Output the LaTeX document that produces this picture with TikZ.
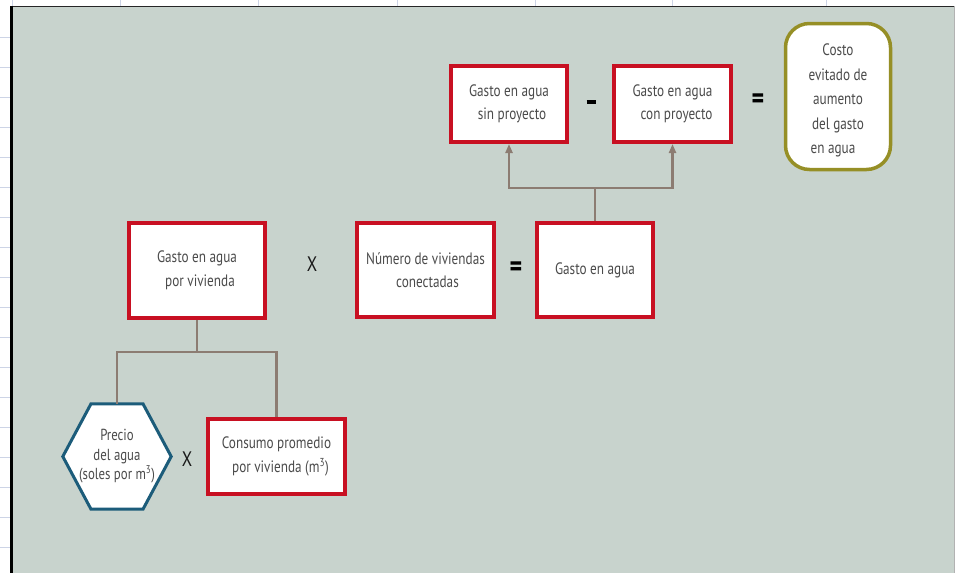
\documentclass[tikz,border=0pt]{standalone}
\usepackage{fontspec}
\setmainfont{PT Sans}
\newfontfamily\boxfont[FakeStretch=0.8]{PT Sans}
\usetikzlibrary{arrows.meta}

\definecolor{panel}{RGB}{200,211,205}
\definecolor{boxred}{RGB}{200,16,34}
\definecolor{hexblue}{RGB}{28,92,122}
\definecolor{olive}{RGB}{150,143,38}
\definecolor{connc}{RGB}{140,124,114}
\definecolor{txt}{RGB}{75,75,75}
\definecolor{gridc}{RGB}{205,212,230}

\tikzset{
  redbox/.style={draw=boxred, line width=4pt, fill=white, text=txt,
    align=center, inner sep=2pt,
    font=\boxfont\fontsize{16.5}{23.5}\selectfont},
  conn/.style={draw=connc, line width=2.2pt},
  uparrow/.style={conn, -{Triangle[width=7pt,length=9pt]}},
  opsign/.style={font=\boxfont\bfseries\fontsize{30}{30}\selectfont, text=black, inner sep=0pt},
  timessign/.style={font=\boxfont\fontsize{21}{21}\selectfont, text=black!90, inner sep=0pt},
}

\begin{document}
\begin{tikzpicture}[x=1pt,y=-1pt]
\useasboundingbox (0,0) rectangle (955,573);
\fill[white] (0,0) rectangle (955,573);

% worksheet grid around the panel
\foreach \gx in {120,258,397,535,672,826}
  \draw[gridc, line width=0.8pt] (\gx,0) -- (\gx,6);
\draw[gridc, line width=0.8pt] (12,0) -- (12,6);
\foreach \gy in {37,67,...,547}
  \draw[gridc, line width=0.8pt] (0,\gy) -- (10,\gy);

% panel
\fill[panel] (11,6) rectangle (954,573);
\draw[black!85, line width=1.5pt] (10,6.5) -- (954,6.5);
\draw[black, line width=3pt] (11.5,6) -- (11.5,573);
\draw[gray!60, line width=0.8pt] (954.5,6) -- (954.5,573);

% top row
\node[redbox, minimum width=116pt, minimum height=76pt] (sin) at (509,104)
  {Gasto en agua\\\hspace*{6pt}sin proyecto};
\node[redbox, minimum width=117pt, minimum height=76pt] (con) at (672.5,104)
  {Gasto en agua\\\hspace*{8pt}con proyecto};
\node[inner sep=0pt] (menos) at (591,102) {\textcolor{black}{\rule{9pt}{3.2pt}}};
\node[opsign] (igual1) at (758,101) {=};
\node[draw=olive, line width=3.5pt, fill=white, rounded corners=24pt,
  minimum width=105pt, minimum height=146pt] (costo) at (838,96.5) {};
\node[align=center, text=txt, font=\boxfont\fontsize{16.5}{24.5}\selectfont,
  anchor=center] (costotxt) at ([yshift=-4pt]costo.center)
  {Costo\\evitado de\\aumento\\del gasto\\en agua\hspace*{10pt}};

% middle row
\node[redbox, minimum width=136pt, minimum height=95pt] (gpv) at (197,270.5)
  {Gasto en agua\\\hspace*{6pt}por vivienda};
\node[timessign] (por1) at (312,264) {X};
\node[redbox, minimum width=137pt, minimum height=94pt] (num) at (425.5,270)
  {N\'umero de viviendas\\\hspace*{4pt}conectadas};
\node[opsign] (igual2) at (516,269) {=};
\node[redbox, minimum width=116pt, minimum height=94pt] (gasto) at (595,270)
  {Gasto en agua};

% bottom row
\node[minimum width=108pt, minimum height=105pt, inner sep=0pt] (precio) at (117,456.5) {};
\draw[draw=hexblue, line width=3pt, fill=white, line join=miter]
  (precio.west) -- ([xshift=-26pt]precio.north) -- ([xshift=26pt]precio.north)
  -- (precio.east) -- ([xshift=26pt]precio.south) -- ([xshift=-26pt]precio.south) -- cycle;
\node[align=center, text=txt, font=\boxfont\fontsize{16}{19.5}\selectfont]
  (preciotxt) at (precio.center) {Precio\\del agua\\(soles por m\textsuperscript{3})};
\node[timessign] (por2) at (187,459) {X};
\node[redbox, minimum width=137pt, minimum height=75pt] (consumo) at (276.5,456.5)
  {Consumo promedio\\\hspace*{8pt}por vivienda (m\textsuperscript{3})};

% connectors
\coordinate (j1) at (197,352);
\draw[conn] (gpv.south) -- (j1);
\draw[conn] (precio.north) |- (j1) -| (consumo.north);

\coordinate (j2) at (595,188);
\draw[conn] (gasto.north) -- (j2);
\draw[uparrow] (j2) -| (sin.south);
\draw[uparrow] (j2) -| (con.south);
\end{tikzpicture}
\end{document}
